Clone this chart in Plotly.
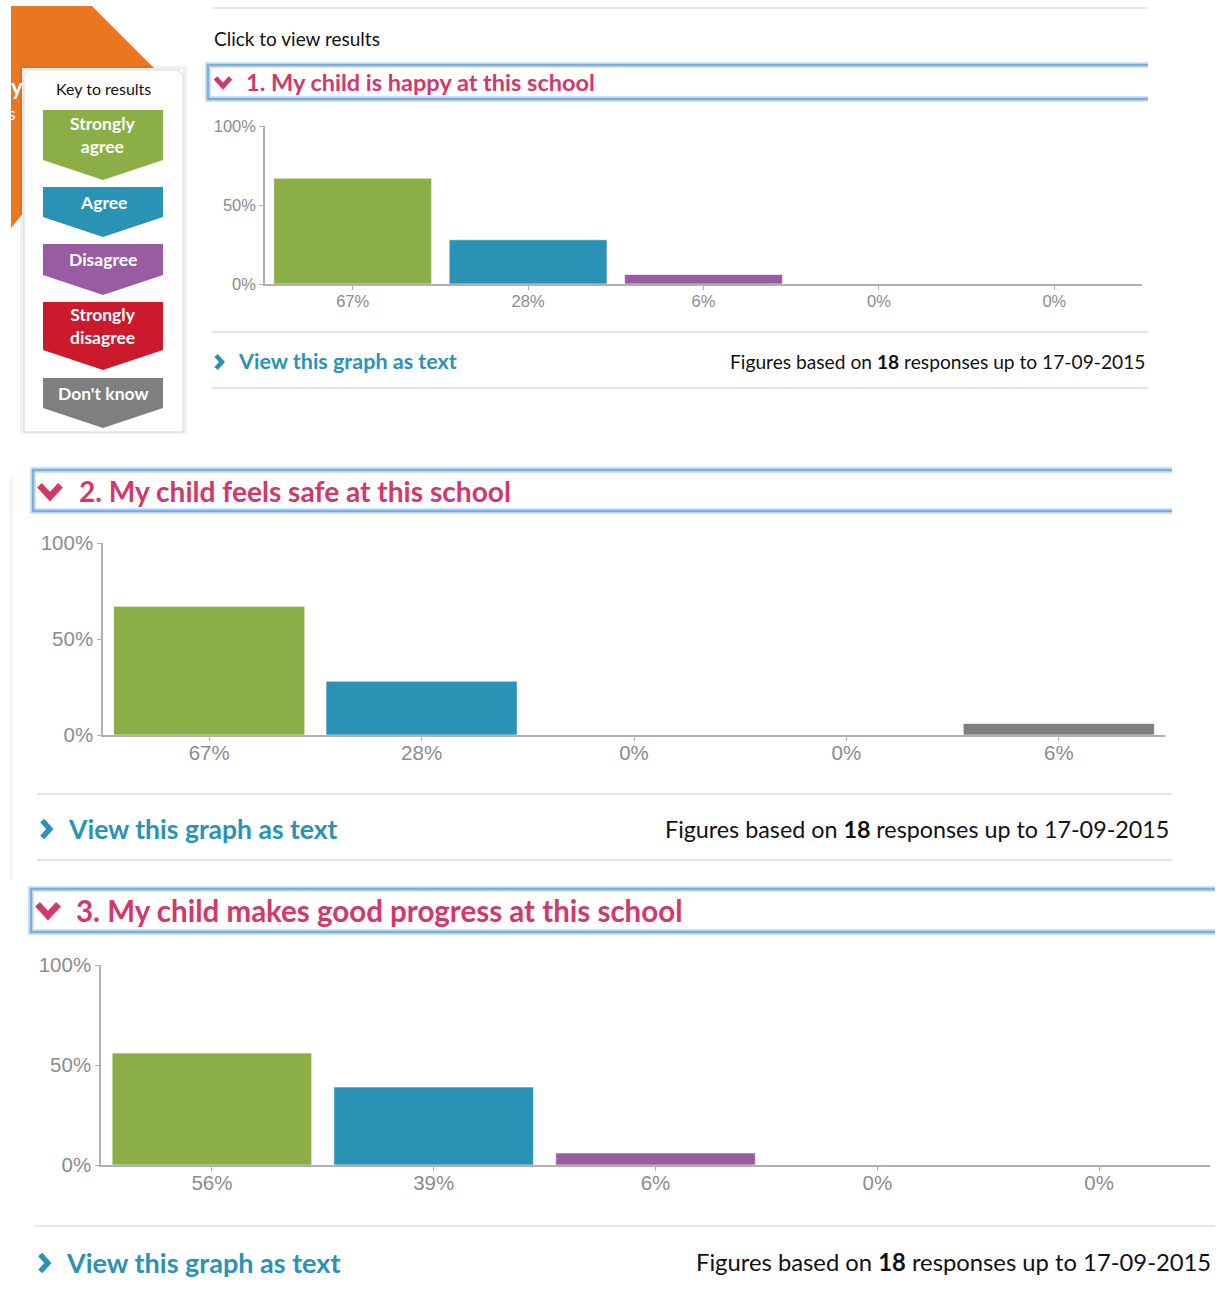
import plotly.graph_objects as go

W, H = 1221, 1289

# ---------------- data ----------------
categories = ["Strongly agree", "Agree", "Disagree", "Strongly disagree", "Don't know"]
bar_colors = ["#8bae46", "#2a92b5", "#995ba3", "#cc1a2c", "#7f7f7f"]
q1_values = [67, 28, 6, 0, 0]
q2_values = [67, 28, 0, 0, 6]
q3_values = [56, 39, 6, 0, 0]
questions = ["1. My child is happy at this school",
             "2. My child feels safe at this school",
             "3. My child makes good progress at this school"]
y_tickvals = [0, 50, 100]
y_ticktext = ["0%", "50%", "100%"]
responses = 18
date_text = "17-09-2015"

PINK = "#d2386a"
BLUE_LINK = "#2a92b5"
AXIS = "#b0b0b0"
TICKF = "#8c8c8c"


def px(x):
    return x / W


def py(y):
    return 1 - y / H


fig = go.Figure()

# panels: (values, x0, x1, y_zero, y_hundred, tickfont, label standoff)
panels = [
    (q1_values, 265, 1142, 284, 126, 16.5, -3),
    (q2_values, 103, 1165, 735, 543, 20.5, -5),
    (q3_values, 101, 1210, 1165, 965, 20.5, -5),
]

for i, (vals, x0, x1, yz, yh, tf, so) in enumerate(panels):
    n = "" if i == 0 else str(i + 1)
    fig.add_trace(go.Bar(
        x=categories, y=vals, marker=dict(color=bar_colors, line=dict(color="rgba(255,255,255,0.6)", width=1)),
        xaxis="x" + n, yaxis="y" + n, showlegend=False, hoverinfo="skip"))
    fig.layout["xaxis" + n] = dict(
        domain=[px(x0), px(x1)], anchor="y" + n, type="category", automargin=False,
        tickvals=categories, ticktext=[f"{v}%" for v in vals], ticklabelstandoff=so,
        showline=True, linecolor=AXIS, linewidth=1.5, ticks="outside", ticklen=4,
        tickcolor=AXIS, tickfont=dict(family="Liberation Sans", size=tf, color=TICKF),
        showgrid=False, zeroline=False, fixedrange=True)
    fig.layout["yaxis" + n] = dict(
        domain=[py(yz), py(yh)], anchor="x" + n, range=[0, 100], automargin=False,
        tickvals=y_tickvals, ticktext=y_ticktext,
        showline=True, linecolor=AXIS, linewidth=1.5, ticks="outside", ticklen=4,
        tickcolor=AXIS, tickfont=dict(family="Liberation Sans", size=tf, color=TICKF),
        showgrid=False, zeroline=False, fixedrange=True)

fig.update_layout(bargap=0.1)

shapes = []
annotations = []


def line(x0, y0, x1, y1, color="#dcdcdc", width=1.5):
    shapes.append(dict(type="line", xref="paper", yref="paper", x0=px(x0), y0=py(y0),
                       x1=px(x1), y1=py(y1), line=dict(color=color, width=width)))


def path(points, fill=None, color=None, width=0, closed=True):
    d = "M " + " L ".join(f"{px(a):.5f},{py(b):.5f}" for a, b in points)
    if closed:
        d += " Z"
    s = dict(type="path", xref="paper", yref="paper", path=d,
             line=dict(color=color if color else "rgba(0,0,0,0)", width=width))
    if fill:
        s["fillcolor"] = fill
    shapes.append(s)


def text(x, y, t, size, color="#111", family="Lato", xanchor="left", bold=False):
    if bold:
        t = f"<b>{t}</b>"
    annotations.append(dict(xref="paper", yref="paper", x=px(x), y=py(y), text=t, showarrow=False,
                            xanchor=xanchor, yanchor="middle",
                            font=dict(size=size, color=color, family=family)))


def header_box(x0, y0, x1, y1):
    # soft glow + main border, open at the right
    path([(x1, y0), (x0, y0), (x0, y1), (x1, y1)], color="rgba(120,170,225,0.35)", width=6, closed=False)
    path([(x1, y0), (x0, y0), (x0, y1), (x1, y1)], color="#78aee2", width=2.5, closed=False)


def down_chev(cx, cy, s, width):
    path([(cx - s, cy - s * 0.55), (cx, cy + s * 0.55), (cx + s, cy - s * 0.55)],
         color=PINK, width=width, closed=False)


def right_chev(cx, cy, s, width):
    path([(cx - s * 0.45, cy - s), (cx + s * 0.45, cy), (cx - s * 0.45, cy + s)],
         color=BLUE_LINK, width=width, closed=False)


# ---------- top section ----------
# orange decoration
path([(11, 6), (92, 6), (158, 72), (24, 72), (24, 212), (11, 228)], fill="#ea7622")
text(17, 86, "y", 22, color="white", family="Lato", xanchor="center", bold=True)
text(12, 113, "s", 18, color="white", family="Lato", xanchor="center")

# key box
shapes.append(dict(type="rect", xref="paper", yref="paper", x0=px(22), x1=px(185), y0=py(432), y1=py(68),
                   line=dict(color="rgba(0,0,0,0.06)", width=4), fillcolor="white"))
path([(24, 432), (24, 75), (29, 70), (178, 70), (183, 75), (183, 432)], fill="white", color="#d9d9d9", width=1)
text(103, 89, "Key to results", 16, color="#111", family="Lato", xanchor="center")

key_items = [
    (110, 160, 180, "Strongly<br>agree"),
    (187, 217, 237, "Agree"),
    (244, 275, 295, "Disagree"),
    (302, 350, 370, "Strongly<br>disagree"),
    (378, 408, 428, "Don't know"),
]
for (top, bot, tip, lbl), col in zip(key_items, bar_colors):
    path([(43, top), (163, top), (163, bot), (103, tip), (43, bot)], fill=col)
    text(103, (top + bot) / 2, lbl, 17.5, color="white", family="Lato", xanchor="center", bold=True)

line(212, 8, 1148, 8)
text(212, 38, "Click to view results", 19, color="#111", family="Lato")
header_box(208, 65, 1148, 99)
down_chev(223, 82, 7.5, 5)
text(244, 82, questions[0], 23.5, color=PINK, family="Lato", bold=True)

line(212, 332, 1148, 332)
line(212, 388, 1148, 388)
right_chev(219, 362, 6.5, 4.5)
text(236, 361, "View this graph as text", 21.5, color=BLUE_LINK, family="Lato", bold=True)
text(1147, 361, f"Figures based on <b>{responses}</b> responses up to {date_text}", 19.2,
     color="#111", family="Lato", xanchor="right")

# ---------- second section ----------
line(11, 478, 11, 880, color="#f2f2f2", width=3)
header_box(33, 470, 1172, 511)
down_chev(50, 491, 10.5, 6.5)
text(77, 491, questions[1], 28.1, color=PINK, family="Lato", bold=True)
line(37, 794, 1172, 794)
line(37, 860, 1172, 860)
right_chev(46, 829, 8.5, 5.5)
text(66, 829, "View this graph as text", 26.5, color=BLUE_LINK, family="Lato", bold=True)
text(1171, 829, f"Figures based on <b>{responses}</b> responses up to {date_text}", 23.3,
     color="#111", family="Lato", xanchor="right")

# ---------- third section ----------
header_box(31, 889, 1215, 932)
down_chev(48, 910, 10.5, 6.5)
text(74, 910, questions[2], 29.5, color=PINK, family="Lato", bold=True)
line(35, 1226, 1215, 1226)
right_chev(44, 1263, 8.5, 5.5)
text(64, 1262, "View this graph as text", 27, color=BLUE_LINK, family="Lato", bold=True)
text(1213, 1262, f"Figures based on <b>{responses}</b> responses up to {date_text}", 23.8,
     color="#111", family="Lato", xanchor="right")

fig.update_layout(
    width=W, height=H, margin=dict(l=0, r=0, t=0, b=0, pad=0, autoexpand=False),
    paper_bgcolor="white", plot_bgcolor="white",
    shapes=shapes, annotations=annotations, showlegend=False,
)

fig.write_html("out.html", config={"displayModeBar": False},
               post_script="document.body.style.margin='0';document.body.style.overflow='hidden';")
